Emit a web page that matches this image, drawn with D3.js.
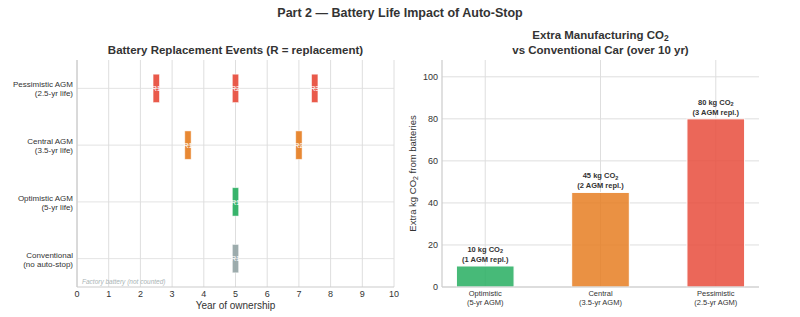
<!DOCTYPE html>
<html><head><meta charset="utf-8">
<script src="https://cdn.jsdelivr.net/npm/d3@7"></script>
<style>body{margin:0;background:#fff}svg{display:block;font-family:"Liberation Sans",Arial,sans-serif}</style>
</head><body><svg id="c" width="800" height="317"></svg>
<script>
// ---- data ----
const scenarioNames = ["Conventional", "Optimistic AGM", "Central AGM", "Pessimistic AGM"];
const scenarioSubs = ["(no auto-stop)", "(5-yr life)", "(3.5-yr life)", "(2.5-yr life)"];
const scenarioColors = ["#95a5a6", "#27ae60", "#e67e22", "#e74c3c"];
const replacementYears = [[5], [5], [3.5, 7], [2.5, 5, 7.5]];
const yearTicks = [0,1,2,3,4,5,6,7,8,9,10];

const co2Cats = ["Optimistic", "Central", "Pessimistic"];
const co2Subs = ["(5-yr AGM)", "(3.5-yr AGM)", "(2.5-yr AGM)"];
const co2Values = [10, 45, 80];
const co2Repl = [1, 2, 3];
const co2Colors = ["#27ae60", "#e67e22", "#e74c3c"];
const co2Ticks = [0, 20, 40, 60, 80, 100];

const svg = d3.select("#c");
const grid = "#dedede", spine = "#cccccc", txt = "#333";

svg.append("text").attr("x", 400).attr("y", 17).attr("text-anchor", "middle")
  .attr("font-size", 12.5).attr("font-weight", "bold").attr("fill", txt)
  .text("Part 2 — Battery Life Impact of Auto-Stop");

// ---- left panel ----
{
  const L = 77, R = 394, T = 60, B = 287;
  const x = d3.scaleLinear().domain([0, 10]).range([L, R]);
  const y = d3.scaleLinear().domain([-0.5, 3.5]).range([B, T]);
  const g = svg.append("g");
  g.selectAll(".vg").data(yearTicks).join("line")
    .attr("x1", d => x(d)).attr("x2", d => x(d)).attr("y1", T).attr("y2", B)
    .attr("stroke", grid).attr("stroke-width", 1);
  scenarioNames.forEach((s, i) => {
    g.selectAll(null).data(replacementYears[i]).join("rect")
      .attr("x", d => x(d - 0.1)).attr("width", x(0.2) - x(0))
      .attr("y", y(i + 0.25)).attr("height", y(i - 0.25) - y(i + 0.25))
      .attr("fill", scenarioColors[i]).attr("fill-opacity", 0.92)
      .attr("stroke", "#fff").attr("stroke-opacity", 0.6).attr("stroke-width", 0.8);
  });
  g.selectAll(".hg").data(d3.range(scenarioNames.length)).join("line")
    .attr("x1", L).attr("x2", R).attr("y1", d => y(d)).attr("y2", d => y(d))
    .attr("stroke", grid).attr("stroke-opacity", 0.85).attr("stroke-width", 1);
  scenarioNames.forEach((s, i) => {
    g.selectAll(null).data(replacementYears[i]).join("text")
      .attr("x", d => x(d)).attr("y", y(i) + 2.7).attr("text-anchor", "middle")
      .attr("font-size", 7.5).attr("fill", "#fff")
      .text((d, k) => "R" + (k + 1));
  });
  scenarioNames.forEach((s, i) => {
    const t = g.append("text").attr("text-anchor", "end").attr("font-size", 8).attr("fill", txt);
    t.append("tspan").attr("x", L - 4).attr("y", y(i) - 1).text(s);
    t.append("tspan").attr("x", L - 4).attr("y", y(i) + 8).text(scenarioSubs[i]);
  });
  g.append("line").attr("x1", L).attr("x2", L).attr("y1", T).attr("y2", B).attr("stroke", spine).attr("stroke-width", 1.2);
  g.append("line").attr("x1", L).attr("x2", R).attr("y1", B).attr("y2", B).attr("stroke", spine).attr("stroke-width", 1.2);
  g.selectAll(".xt").data(yearTicks).join("text")
    .attr("x", d => x(d)).attr("y", B + 10).attr("text-anchor", "middle")
    .attr("font-size", 9).attr("fill", txt).text(d => d);
  g.append("text").attr("x", (L + R) / 2).attr("y", B + 22).attr("text-anchor", "middle")
    .attr("font-size", 10).attr("fill", txt).text("Year of ownership");
  g.append("text").attr("x", L + 5).attr("y", B - 3).attr("font-size", 6.5)
    .attr("font-style", "italic").attr("fill", "#aab4b5").text("Factory battery (not counted)");
  g.append("text").attr("x", (L + R) / 2).attr("y", 54).attr("text-anchor", "middle")
    .attr("font-size", 11.5).attr("font-weight", "bold").attr("fill", txt)
    .text("Battery Replacement Events (R = replacement)");
}

// ---- right panel ----
{
  const L = 442, R = 759, T = 60, B = 287;
  const x = d3.scaleLinear().domain([-0.375, 2.375]).range([L, R]);
  const y = d3.scaleLinear().domain([0, 108]).range([B, T]);
  const g = svg.append("g");
  g.selectAll(".hg").data(co2Ticks).join("line")
    .attr("x1", L).attr("x2", R).attr("y1", d => y(d)).attr("y2", d => y(d))
    .attr("stroke", grid);
  g.selectAll(".vg").data(co2Cats).join("line")
    .attr("x1", (d, i) => x(i)).attr("x2", (d, i) => x(i)).attr("y1", T).attr("y2", B)
    .attr("stroke", grid);
  g.selectAll(".bar").data(co2Values).join("rect")
    .attr("x", (d, i) => x(i - 0.25)).attr("width", x(0.5) - x(0))
    .attr("y", d => y(d)).attr("height", d => B - y(d))
    .attr("fill", (d, i) => co2Colors[i]).attr("fill-opacity", 0.85)
    .attr("stroke", "#fff").attr("stroke-width", 1);
  co2Values.forEach((v, i) => {
    const t = g.append("text").attr("text-anchor", "middle").attr("font-size", 7.5)
      .attr("font-weight", "bold").attr("fill", txt);
    t.append("tspan").attr("x", x(i)).attr("y", y(v) - 14).text(v + " kg CO");
    t.append("tspan").attr("font-size", 5.5).attr("dy", 1.5).text("2");
    g.append("text").attr("text-anchor", "middle").attr("font-size", 7.5)
      .attr("font-weight", "bold").attr("fill", txt)
      .attr("x", x(i)).attr("y", y(v) - 4).text("(" + co2Repl[i] + " AGM repl.)");
  });
  g.append("line").attr("x1", L).attr("x2", L).attr("y1", T).attr("y2", B).attr("stroke", spine).attr("stroke-width", 1.2);
  g.append("line").attr("x1", L).attr("x2", R).attr("y1", B).attr("y2", B).attr("stroke", spine).attr("stroke-width", 1.2);
  g.selectAll(".yt").data(co2Ticks).join("text")
    .attr("x", L - 4).attr("y", d => y(d) + 3).attr("text-anchor", "end")
    .attr("font-size", 9).attr("fill", txt).text(d => d);
  co2Cats.forEach((c, i) => {
    const t = g.append("text").attr("text-anchor", "middle").attr("font-size", 7.5).attr("fill", txt);
    t.append("tspan").attr("x", x(i)).attr("y", B + 9).text(c);
    t.append("tspan").attr("x", x(i)).attr("y", B + 18).text(co2Subs[i]);
  });
  const yl = g.append("text").attr("transform", `translate(${L - 26},${(T + B) / 2}) rotate(-90)`)
    .attr("text-anchor", "middle").attr("font-size", 9.5).attr("fill", txt);
  yl.append("tspan").text("Extra kg CO");
  yl.append("tspan").attr("font-size", 7).attr("dy", 2).text("2");
  yl.append("tspan").attr("dy", -2).text(" from batteries");
  const tt = g.append("text").attr("text-anchor", "middle").attr("font-size", 11.5)
    .attr("font-weight", "bold").attr("fill", txt);
  tt.append("tspan").attr("x", (L + R) / 2).attr("y", 39).text("Extra Manufacturing CO");
  tt.append("tspan").attr("font-size", 8.5).attr("dy", 2).text("2");
  g.append("text").attr("text-anchor", "middle").attr("font-size", 11.5)
    .attr("font-weight", "bold").attr("fill", txt)
    .attr("x", (L + R) / 2).attr("y", 54).text("vs Conventional Car (over 10 yr)");
}
</script></body></html>
